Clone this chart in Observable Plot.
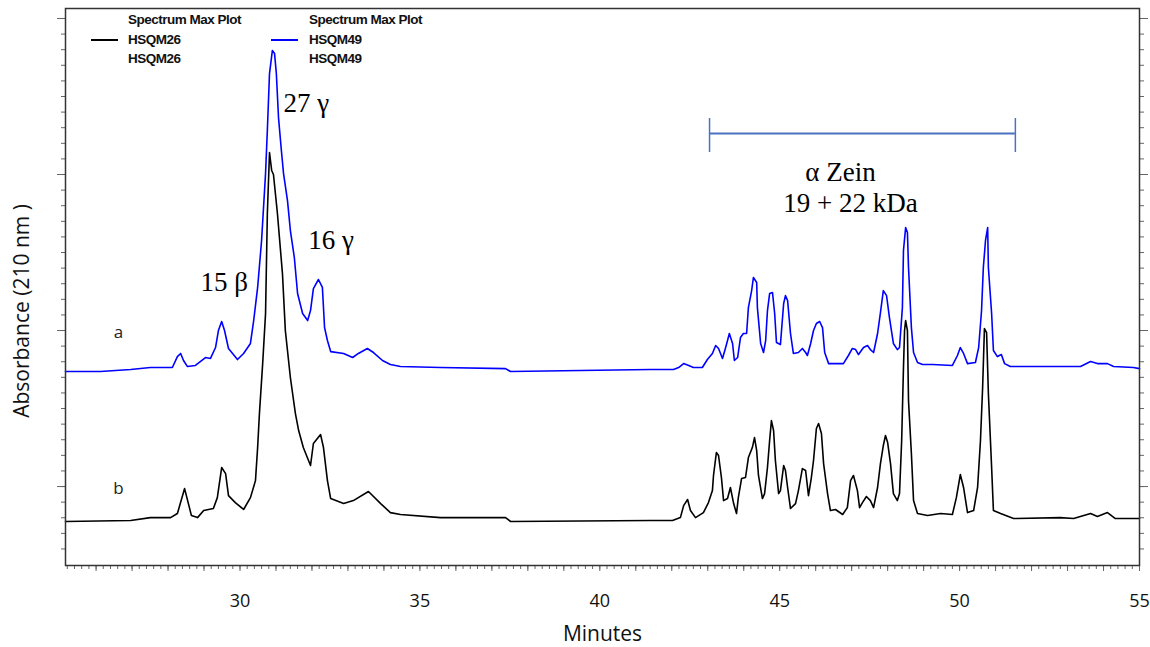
<!DOCTYPE html>
<html>
<head>
<meta charset="utf-8">
<script src="https://cdn.jsdelivr.net/npm/d3@7"></script>
<script src="https://cdn.jsdelivr.net/npm/@observablehq/plot@0.6"></script>
<style>
  body { margin: 0; background: #fff; }
  #wrap { position: relative; width: 1150px; height: 647px; }
  .lg { position: absolute; font-family: "Liberation Sans Narrow", "Liberation Sans", Arial, sans-serif; font-weight: bold; font-size: 13.5px; letter-spacing: -0.5px; color: #111; line-height: 19.5px; white-space: nowrap; }
  .sw { position: absolute; height: 2px; width: 27px; }
</style>
</head>
<body>
<div id="wrap"></div>
<script>
// ---- data (minutes, absorbance in arbitrary mAU-like units) ----
const traceB = [ // HSQM26, trace "b" (black)
[25.15,-22.4],[26.96,-21.8],[27.51,-19.9],[28.07,-19.9],[28.26,-17.3],[28.46,-1.3],[28.65,-18.6],[28.82,-19.9],[28.99,-15.4],[29.26,-14.1],[29.37,-7.1],[29.49,12.2],[29.60,8.3],[29.68,-5.8],[29.87,-10.3],[30.10,-14.7],[30.29,-7.1],[30.43,3.8],[30.49,25.0],[30.54,46.8],[30.63,78.8],[30.71,110.9],[30.76,175.0],[30.82,214.1],[30.88,202.6],[30.93,200.0],[31.04,175.0],[31.18,136.5],[31.26,100.0],[31.40,69.9],[31.54,46.8],[31.63,35.9],[31.76,25.0],[31.96,13.5],[32.04,27.6],[32.24,33.3],[32.32,25.0],[32.43,3.8],[32.52,-7.7],[32.88,-10.9],[33.15,-9.0],[33.57,-3.2],[33.91,-10.9],[34.18,-16.7],[34.46,-17.9],[35.57,-19.9],[37.38,-19.9],[37.52,-22.4],[41.41,-21.8],[42.02,-21.8],[42.24,-19.9],[42.33,-12.2],[42.44,-8.3],[42.52,-15.4],[42.66,-19.9],[42.88,-16.7],[43.02,-10.3],[43.13,-2.6],[43.16,7.1],[43.24,21.8],[43.30,19.9],[43.38,5.8],[43.44,-9.0],[43.55,-7.7],[43.63,-0.6],[43.72,-10.9],[43.80,-17.3],[43.85,-7.1],[43.94,5.1],[44.05,5.8],[44.13,18.6],[44.24,25.0],[44.30,31.4],[44.36,23.1],[44.41,7.1],[44.52,-7.7],[44.58,-4.5],[44.66,12.2],[44.72,29.5],[44.77,42.3],[44.83,35.9],[44.88,16.7],[44.97,-4.5],[45.02,-2.6],[45.11,13.5],[45.16,10.3],[45.22,-0.6],[45.30,-14.1],[45.44,-10.9],[45.52,-2.6],[45.63,11.5],[45.72,10.3],[45.80,-5.8],[45.88,5.8],[45.94,16.7],[46.02,37.2],[46.08,40.4],[46.16,34.0],[46.22,14.7],[46.33,-4.5],[46.41,-15.4],[46.55,-14.7],[46.75,-17.9],[46.88,-13.5],[46.97,3.8],[47.05,7.1],[47.16,-2.6],[47.22,-13.5],[47.30,-10.3],[47.41,-6.4],[47.52,-9.0],[47.61,-13.5],[47.72,-0.6],[47.80,14.7],[47.88,26.3],[47.94,32.7],[48.00,28.2],[48.08,14.7],[48.16,-4.5],[48.27,-9.0],[48.33,-4.5],[48.39,29.5],[48.44,76.3],[48.47,100.0],[48.50,106.4],[48.55,100.0],[48.58,55.1],[48.66,21.2],[48.72,-9.0],[48.83,-17.3],[49.11,-18.6],[49.47,-17.3],[49.80,-17.9],[49.91,-7.1],[50.02,7.7],[50.11,-0.6],[50.22,-16.7],[50.39,-15.4],[50.50,-0.6],[50.58,29.5],[50.64,63.5],[50.69,101.3],[50.75,98.7],[50.80,59.6],[50.89,12.2],[50.94,-15.4],[51.14,-17.3],[51.50,-20.5],[52.80,-19.9],[53.17,-20.5],[53.64,-17.3],[53.83,-19.2],[54.11,-16.7],[54.33,-20.5],[55.00,-20.5]
];
const traceA = [ // HSQM49, trace "a" (blue)
[25.15,73.7],[26.12,73.7],[26.96,75.0],[27.51,76.3],[28.12,76.3],[28.26,83.3],[28.35,85.3],[28.43,80.8],[28.54,76.9],[28.76,77.6],[29.04,82.7],[29.18,82.1],[29.32,89.1],[29.40,100.0],[29.49,105.8],[29.57,100.0],[29.68,88.5],[29.93,81.4],[30.10,85.3],[30.29,91.7],[30.38,106.4],[30.49,127.6],[30.60,157.7],[30.71,200.6],[30.76,228.2],[30.82,264.7],[30.90,279.5],[30.96,277.6],[31.01,264.7],[31.07,236.5],[31.15,215.4],[31.21,200.6],[31.32,183.3],[31.40,164.1],[31.51,146.8],[31.60,123.7],[31.74,110.9],[31.88,106.4],[31.96,112.8],[32.04,126.9],[32.18,132.7],[32.29,127.6],[32.35,101.9],[32.43,93.6],[32.52,86.5],[32.88,85.3],[33.13,82.7],[33.29,85.3],[33.54,88.5],[33.71,85.9],[33.96,80.8],[34.18,78.2],[34.46,76.9],[35.57,76.3],[37.38,75.6],[37.52,73.7],[41.41,75.0],[42.05,75.0],[42.19,76.3],[42.33,78.8],[42.47,77.6],[42.60,76.3],[42.85,76.3],[42.99,81.4],[43.13,85.3],[43.22,90.4],[43.30,88.5],[43.41,82.1],[43.49,88.5],[43.55,93.6],[43.60,98.1],[43.69,91.7],[43.74,80.8],[43.83,82.7],[43.91,95.5],[43.99,98.1],[44.08,98.1],[44.13,114.7],[44.22,125.6],[44.27,134.0],[44.36,130.8],[44.38,114.7],[44.47,91.7],[44.55,85.9],[44.61,93.6],[44.66,112.8],[44.72,123.7],[44.80,124.4],[44.86,110.9],[44.91,92.3],[45.02,91.0],[45.11,117.3],[45.16,122.4],[45.22,119.2],[45.30,98.1],[45.38,85.3],[45.52,85.9],[45.63,88.5],[45.72,85.9],[45.77,84.0],[45.86,91.7],[45.94,100.0],[46.02,104.5],[46.11,105.8],[46.19,101.9],[46.25,85.9],[46.36,78.8],[46.50,78.8],[46.77,78.8],[46.91,84.0],[47.02,88.5],[47.11,87.8],[47.19,84.6],[47.33,89.1],[47.44,90.4],[47.52,87.8],[47.61,85.9],[47.72,98.1],[47.80,111.5],[47.88,125.6],[47.97,122.4],[48.05,108.3],[48.16,91.7],[48.27,87.8],[48.33,89.1],[48.41,114.7],[48.44,151.3],[48.50,166.0],[48.55,162.8],[48.58,140.4],[48.66,101.9],[48.72,85.9],[48.83,79.5],[48.97,78.2],[49.25,78.2],[49.80,77.6],[49.94,84.0],[50.02,89.1],[50.11,85.3],[50.22,78.8],[50.44,79.5],[50.53,89.1],[50.61,112.8],[50.66,140.4],[50.72,157.7],[50.78,166.0],[50.80,140.4],[50.89,110.9],[50.94,87.2],[51.05,83.3],[51.16,84.6],[51.25,78.8],[51.41,76.9],[52.44,76.9],[53.36,76.9],[53.64,80.1],[53.83,78.8],[54.11,78.8],[54.28,76.9],[54.83,76.3],[55.00,75.6]
];
const xDomain = [25.15, 55];
const yDomain = [-50.6, 306.4];
const xLabelTicks = [30, 35, 40, 45, 50, 55];
const xMinorTicks = d3.range(25.2, 55.001, 0.2).map(v => +v.toFixed(1));
const xMidTicks = d3.range(26, 56, 1);
const yMinorTicks = d3.range(-40, 301, 10);
const yMajorTicks = [0, 100, 200, 300];
const peakLabels = [
  {label: "27 \u03b3", m: 31.21, v: 245.5},
  {label: "16 \u03b3", m: 31.90, v: 157.7},
  {label: "15 \u03b2", m: 28.90, v: 130.8}
];
const zeinLabels = [
  {label: "\u03b1 Zein", m: 46.69, v: 201.3},
  {label: "19 + 22 kDa", m: 46.97, v: 181.4}
];
const traceLetters = [
  {label: "a", m: 26.62, v: 98.7},
  {label: "b", m: 26.62, v: -1.3}
];
const bracket = {start: 43.05, end: 51.55, v: 226.3, top: 235.9, bottom: 214.1};
const legendSeries = [
  {title: "Spectrum Max Plot", name: "HSQM26", color: "#000000"},
  {title: "Spectrum Max Plot", name: "HSQM49", color: "#0000ff"}
];
const xTitle = "Minutes";
const yTitle = "Absorbance (210 nm )";

// ---- chart ----
const sans = "'Open Sans', 'DejaVu Sans', sans-serif";
const serif = "'Liberation Serif', 'Times New Roman', serif";
const tickColor = "#666";

const chart = Plot.plot({
  width: 1150,
  height: 647,
  marginLeft: 65,
  marginRight: 11,
  marginTop: 8,
  marginBottom: 82,
  style: {fontFamily: sans, background: "#fff", color: "#111"},
  x: {domain: xDomain},
  y: {domain: yDomain},
  marks: [
    Plot.axisX(xMinorTicks, {anchor: "bottom", tickSize: 4, stroke: tickColor, fill: "none", label: null}),
    Plot.axisX(xMidTicks, {anchor: "bottom", tickSize: 6, stroke: tickColor, fill: "none", label: null}),
    Plot.axisX(xLabelTicks, {anchor: "bottom", tickSize: 0, tickPadding: 29, fontSize: 18, fill: "#111", label: null}),
    Plot.axisY(yMinorTicks, {anchor: "left", tickSize: 4, stroke: tickColor, fill: "none", label: null}),
    Plot.axisY(yMajorTicks, {anchor: "left", tickSize: 8, stroke: tickColor, fill: "none", label: null}),
    Plot.axisY(yMinorTicks, {anchor: "right", tickSize: 4, stroke: tickColor, fill: "none", label: null}),
    Plot.axisY(yMajorTicks, {anchor: "right", tickSize: 8, stroke: tickColor, fill: "none", label: null}),
    Plot.line(traceB, {x: d => d[0], y: d => d[1], stroke: "#000", strokeWidth: 1.6}),
    Plot.line(traceA, {x: d => d[0], y: d => d[1], stroke: "#0000ff", strokeWidth: 1.6}),
    Plot.ruleY([bracket], {y: "v", x1: "start", x2: "end", stroke: "#4a72c0", strokeWidth: 2}),
    Plot.ruleX([bracket.start, bracket.end], {y1: bracket.bottom, y2: bracket.top, stroke: "#4a72c0", strokeWidth: 1.5}),
    Plot.text(peakLabels, {x: "m", y: "v", text: "label", textAnchor: "start", fontFamily: serif, fontSize: 27, fill: "#000"}),
    Plot.text(zeinLabels, {x: "m", y: "v", text: "label", textAnchor: "middle", fontFamily: serif, fontSize: 27, fill: "#000"}),
    Plot.text(traceLetters, {x: "m", y: "v", text: "label", textAnchor: "middle", fontFamily: sans, fontSize: 17, fill: "#222"}),
    Plot.text([xTitle], {frameAnchor: "bottom", textAnchor: "middle", lineAnchor: "middle", dy: 69, fontSize: 21, fill: "#111"}),
    Plot.text([yTitle], {frameAnchor: "left", textAnchor: "middle", lineAnchor: "middle", rotate: -90, dx: -43, dy: 24, fontSize: 21, fill: "#111"}),
    Plot.frame({stroke: "#333", strokeWidth: 1.5})
  ]
});

const wrap = document.getElementById("wrap");
wrap.appendChild(chart);

// legend overlay inside the frame (top-left)
const lgSwatchLeft = [91, 271];
const lgTextLeft = [128, 309];
legendSeries.forEach((s, i) => {
  const t = document.createElement("div");
  t.className = "lg";
  t.style.left = lgTextLeft[i] + "px";
  t.style.top = "10px";
  t.innerHTML = `${s.title}<br>${s.name}<br>${s.name}`;
  wrap.appendChild(t);
  const sw = document.createElement("div");
  sw.className = "sw";
  sw.style.left = lgSwatchLeft[i] + "px";
  sw.style.top = "39px";
  sw.style.background = s.color;
  wrap.appendChild(sw);
});
</script>
</body>
</html>
